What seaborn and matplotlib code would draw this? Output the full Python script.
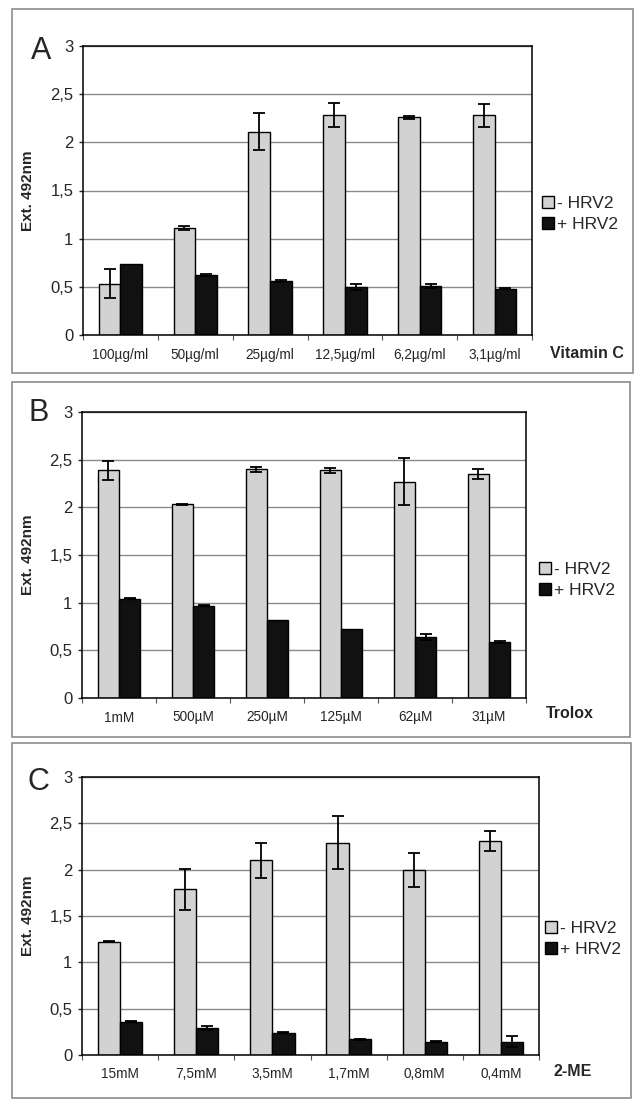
import numpy as np
import pandas as pd
import matplotlib
matplotlib.use('Agg')
import matplotlib.pyplot as plt
import seaborn as sns
from matplotlib.patches import Rectangle

# values
hue_labels = ['- HRV2', '+ HRV2']

conc_a = ['100µg/ml', '50µg/ml', '25µg/ml', '12,5µg/ml', '6,2µg/ml', '3,1µg/ml']
minus_a = [0.53, 1.11, 2.11, 2.28, 2.26, 2.28]
minus_a_err = [0.15, 0.02, 0.19, 0.125, 0.015, 0.12]
plus_a = [0.74, 0.62, 0.56, 0.50, 0.51, 0.48]
plus_a_err = [0.0, 0.01, 0.01, 0.03, 0.02, 0.005]

conc_b = ['1mM', '500µM', '250µM', '125µM', '62µM', '31µM']
minus_b = [2.39, 2.03, 2.40, 2.39, 2.27, 2.35]
minus_b_err = [0.10, 0.003, 0.025, 0.025, 0.25, 0.055]
plus_b = [1.04, 0.97, 0.82, 0.725, 0.64, 0.59]
plus_b_err = [0.005, 0.005, 0.0, 0.0, 0.03, 0.01]

conc_c = ['15mM', '7,5mM', '3,5mM', '1,7mM', '0,8mM', '0,4mM']
minus_c = [1.22, 1.79, 2.10, 2.29, 2.00, 2.31]
minus_c_err = [0.005, 0.22, 0.185, 0.285, 0.185, 0.105]
plus_c = [0.36, 0.29, 0.24, 0.17, 0.145, 0.145]
plus_c_err = [0.005, 0.025, 0.005, 0.005, 0.005, 0.06]

yticks = [0, 0.5, 1, 1.5, 2, 2.5, 3]
ytick_labels = ['0', '0,5', '1', '1,5', '2', '2,5', '3']

sns.set_style('white')
plt.rcParams['font.family'] = ['Liberation Sans', 'DejaVu Sans']

W, H = 643, 1111
fig = plt.figure(figsize=(W / 100, H / 100), dpi=100)


def px_axes(left, top, right, bottom):
    return fig.add_axes([left / W, 1 - bottom / H, (right - left) / W, (bottom - top) / H])


def draw_panel(frame, box, letter, conc, minus, minus_err, plus, plus_err, xname, xname_pos, leg_pos):
    fl, ft, fr, fb = frame
    fig.patches.append(Rectangle((fl / W, 1 - fb / H), (fr - fl) / W, (fb - ft) / H,
                                 transform=fig.transFigure, fill=False,
                                 edgecolor='#8c8c8c', lw=1.2))
    ax = px_axes(*box)
    df = pd.DataFrame({
        'conc': conc * 2,
        'value': minus + plus,
        'err': minus_err + plus_err,
        'virus': [hue_labels[0]] * len(conc) + [hue_labels[1]] * len(conc),
    })
    sns.barplot(data=df, x='conc', y='value', hue='virus', order=conc,
                hue_order=hue_labels, palette=['#d2d2d2', '#111111'],
                width=0.58, errorbar=None, edgecolor='black', linewidth=1,
                legend=False, ax=ax)
    bar_sets = list(ax.containers[:2])

    # error bars from the bars seaborn drew
    for bars, errs in zip(bar_sets, [minus_err, plus_err]):
        xs, ys, es = [], [], []
        for patch, e in zip(bars.patches, errs):
            if e > 0:
                xs.append(patch.get_x() + patch.get_width() / 2)
                ys.append(patch.get_height())
                es.append(e)
        ax.errorbar(xs, ys, yerr=es, fmt='none', ecolor='black',
                    elinewidth=1.3, capsize=4.5, capthick=1.3, zorder=5)

    ax.set_ylim(0, 3)
    ax.set_xlim(-0.5, len(conc) - 0.5)
    ax.set_yticks(yticks)
    ax.set_yticklabels(ytick_labels)
    ax.yaxis.grid(True, color='#8a8a8a', lw=1)
    ax.set_axisbelow(True)
    for s in ax.spines.values():
        s.set_color('black')
        s.set_linewidth(1.1)
    ax.tick_params(axis='y', labelsize=12, length=3, width=1, pad=4, direction='out', left=True)
    ax.tick_params(axis='x', which='major', labelsize=9.8, length=0, pad=9)
    ax.set_xticks(np.arange(-0.5, len(conc), 1), minor=True)
    ax.tick_params(axis='x', which='minor', length=3.5, width=0.8, direction='out',
                   bottom=True, color='#555555')
    ax.set_xlabel('')
    ax.set_ylabel('Ext. 492nm', fontsize=11, fontweight='bold')
    ax.yaxis.set_label_coords((35 - box[0]) / (box[2] - box[0]), 0.5)

    fig.text(letter[1] / W, 1 - letter[2] / H, letter[0], fontsize=22,
             ha='center', va='center')
    fig.text(xname_pos[0] / W, 1 - xname_pos[1] / H, xname, fontsize=11.5,
             fontweight='bold', ha='left', va='center')
    ax.legend(bar_sets, hue_labels, loc='upper left',
              bbox_to_anchor=(leg_pos[0] / W, 1 - leg_pos[1] / H),
              bbox_transform=fig.transFigure, frameon=False, fontsize=12.5,
              handlelength=0.7, handleheight=0.7, handletextpad=0.15,
              labelspacing=0.35, borderpad=0, borderaxespad=0)


draw_panel((12, 9, 633, 373), (83, 46, 532, 335), ('A', 41, 51),
           conc_a, minus_a, minus_a_err, plus_a, plus_a_err,
           'Vitamin C', (550, 353), (542, 196))
draw_panel((12, 382, 630, 737), (82, 412, 526, 698), ('B', 39, 413),
           conc_b, minus_b, minus_b_err, plus_b, plus_b_err,
           'Trolox', (546, 713), (539, 562))
draw_panel((12, 743, 631, 1098), (82, 777, 539, 1055), ('C', 38, 782),
           conc_c, minus_c, minus_c_err, plus_c, plus_c_err,
           '2-ME', (553, 1071), (545, 921))

fig.savefig('out.png', dpi=100, facecolor='white')
